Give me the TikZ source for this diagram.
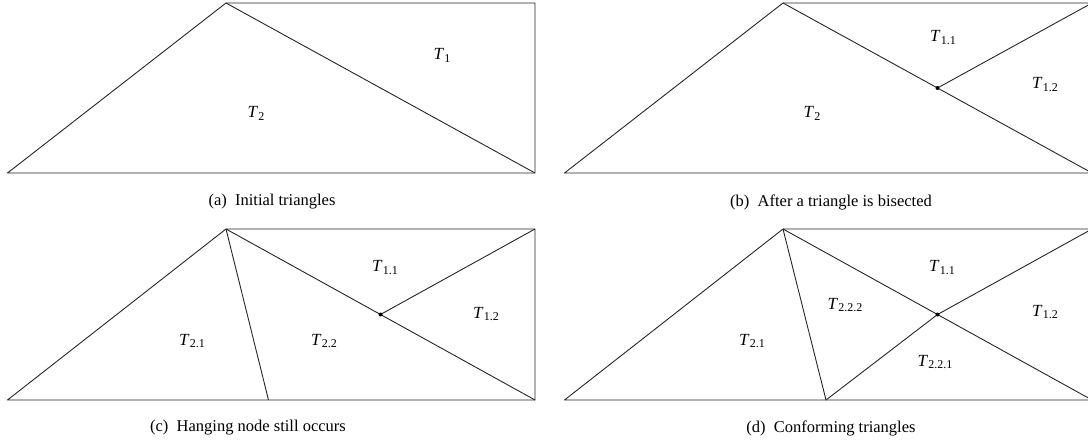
\documentclass[tikz,border=0pt]{standalone}
\usepackage{fontspec}
\setmainfont{Liberation Serif}
\usepackage{tikz}
\usetikzlibrary{calc}
\newcommand{\Tlab}[1]{\textit{T}\kern0.3pt\raisebox{-0.38ex}{\fontsize{12}{12}\selectfont #1}}
\begin{document}
\begin{tikzpicture}[x=1pt,y=-1pt,
  edge/.style={draw=black!85, line width=0.9pt, line join=round},
  lbl/.style={font=\fontsize{17}{20}\selectfont, inner sep=0pt},
  captxt/.style={font=\fontsize{16.5}{19}\selectfont, inner sep=0pt},
  hang/.style={circle, fill=black, inner sep=0pt, minimum size=4pt}]
\useasboundingbox (0,0) rectangle (1088,447);
% ---------- panel (a)
\coordinate (aBL) at (7.5,173);
\coordinate (aA) at (226,3);
\coordinate (aTR) at (535,3);
\coordinate (aBR) at (535,173);
\draw[edge] (aBL) -- (aA) -- (aTR) -- (aBR) -- cycle;
\draw[edge] (aA) -- (aBR);
\node[lbl] (aT1) at (442,55) {\Tlab{1}};
\node[lbl] (aT2) at (256,113) {\Tlab{2}};
\node[captxt] (acap) at (272,202) {(a)\ \ Initial triangles};
% ---------- panel (b)
\coordinate (bBL) at (564.5,173);
\coordinate (bA) at (783,3);
\coordinate (bTR) at (1092,3);
\coordinate (bBR) at (1092,173);
\coordinate (bM) at ($(bA)!0.5!(bBR)$);
\draw[edge] (bBL) -- (bA) -- (bTR) -- (bBR) -- cycle;
\draw[edge] (bA) -- (bBR);
\draw[edge] (bM) -- (bTR);
\node[hang] (bdot) at (bM) {};
\node[lbl] (bT11) at (943,38) {\Tlab{1.1}};
\node[lbl] (bT12) at (1045,85) {\Tlab{1.2}};
\node[lbl] (bT2) at (812,113) {\Tlab{2}};
\node[captxt] (bcap) at (831,202) {(b)\ \ After a triangle is bisected};
% ---------- panel (c)
\coordinate (cBL) at (7.5,400);
\coordinate (cA) at (226,229);
\coordinate (cTR) at (535,229);
\coordinate (cBR) at (535,400);
\coordinate (cS) at (268.5,400);
\coordinate (cM) at ($(cA)!0.5!(cBR)$);
\draw[edge] (cBL) -- (cA) -- (cTR) -- (cBR) -- cycle;
\draw[edge] (cA) -- (cBR);
\draw[edge] (cM) -- (cTR);
\draw[edge] (cA) -- (cS);
\node[hang] (cdot) at (cM) {};
\node[lbl] (cT11) at (385,268) {\Tlab{1.1}};
\node[lbl] (cT12) at (486,314) {\Tlab{1.2}};
\node[lbl] (cT21) at (192,341) {\Tlab{2.1}};
\node[lbl] (cT22) at (324,341) {\Tlab{2.2}};
\node[captxt] (ccap) at (248,428) {(c)\ \ Hanging node still occurs};
% ---------- panel (d)
\coordinate (dBL) at (564.5,400);
\coordinate (dA) at (783,229);
\coordinate (dTR) at (1092,229);
\coordinate (dBR) at (1092,400);
\coordinate (dS) at (826,400);
\coordinate (dM) at ($(dA)!0.5!(dBR)$);
\draw[edge] (dBL) -- (dA) -- (dTR) -- (dBR) -- cycle;
\draw[edge] (dA) -- (dBR);
\draw[edge] (dM) -- (dTR);
\draw[edge] (dA) -- (dS);
\draw[edge] (dS) -- (dM);
\node[hang] (ddot) at (dM) {};
\node[lbl] (dT11) at (942,268) {\Tlab{1.1}};
\node[lbl] (dT12) at (1045,312) {\Tlab{1.2}};
\node[lbl] (dT222) at (845,305) {\Tlab{2.2.2}};
\node[lbl] (dT21) at (752,341) {\Tlab{2.1}};
\node[lbl] (dT221) at (935,362) {\Tlab{2.2.1}};
\node[captxt] (dcap) at (831,428) {(d)\ \ Conforming triangles};
\end{tikzpicture}
\end{document}
